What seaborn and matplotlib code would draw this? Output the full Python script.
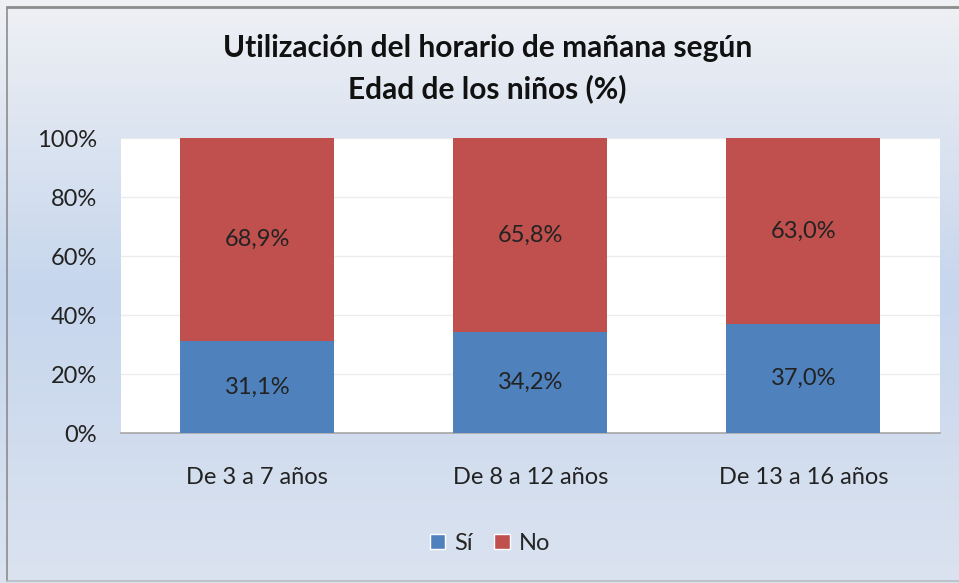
import matplotlib
matplotlib.use('Agg')
import matplotlib.pyplot as plt
import numpy as np
import pandas as pd
import seaborn as sns
from matplotlib.colors import LinearSegmentedColormap
from matplotlib.patches import Patch

sns.set_style('white')
plt.rcParams['font.family'] = ['Lato', 'DejaVu Sans']

categories = ['De 3 a 7 años', 'De 8 a 12 años', 'De 13 a 16 años']
si_values = [31.1, 34.2, 37.0]
no_values = [68.9, 65.8, 63.0]

BLUE = '#4F81BD'
RED = '#C0504D'

df = pd.DataFrame({'edad': categories, 'si': si_values, 'no': no_values})
df['total'] = df['si'] + df['no']

fig = plt.figure(figsize=(9.59, 5.83), dpi=100)

# gradient background of the chart area
bg = fig.add_axes([0, 0, 1, 1], zorder=-10)
cmap = LinearSegmentedColormap.from_list(
    'bg', [(0.0, '#f3f3f5'), (0.5, '#c6d6ed'), (1.0, '#dde4f0')])
grad = np.linspace(0, 1, 256).reshape(-1, 1)
bg.imshow(grad, aspect='auto', cmap=cmap, extent=[-0.05, 1.05, -0.05, 1.05])
bg.set_xlim(0, 1)
bg.set_ylim(0, 1)
bg.set_axis_off()
# chart frame: dark top and left, light bottom, none on the right
bg.plot([0.007, 0.007], [0.004, 0.988], color='#8c8c8c', lw=1.2)
bg.plot([0.007, 1.0], [0.988, 0.988], color='#8c8c8c', lw=2)
bg.plot([0.007, 1.0], [0.004, 0.004], color='#b8bcc4', lw=1.2)

ax = fig.add_axes([0.126, 0.257, 0.854, 0.506])
ax.set_facecolor('white')

sns.barplot(data=df, x='edad', y='total', color=RED, width=0.565,
            saturation=1, linewidth=0, ax=ax, zorder=3)
sns.barplot(data=df, x='edad', y='si', color=BLUE, width=0.565,
            saturation=1, linewidth=0, ax=ax, zorder=4)

for i, (s, n) in enumerate(zip(si_values, no_values)):
    ax.text(i, s / 2, f'{s:.1f}%'.replace('.', ','), ha='center',
            va='center', fontsize=17, color='#222222', zorder=5)
    ax.text(i, s + n / 2, f'{n:.1f}%'.replace('.', ','), ha='center',
            va='center', fontsize=17, color='#222222', zorder=5)

ax.set_ylim(0, 100)
ax.set_xlim(-0.5, 2.5)
ax.set_yticks(range(0, 101, 20))
ax.set_yticklabels([f'{v}%' for v in range(0, 101, 20)])
ax.yaxis.grid(True, color='#ececec', lw=1)
ax.set_axisbelow(True)
ax.set_xlabel('')
ax.set_ylabel('')
ax.tick_params(axis='y', length=0, pad=17, labelsize=17, labelcolor='#222222')
ax.tick_params(axis='x', length=0, pad=24, labelsize=17, labelcolor='#222222')
for side in ['top', 'right', 'left']:
    ax.spines[side].set_visible(False)
ax.spines['bottom'].set_color('#a6a6a6')
ax.spines['bottom'].set_linewidth(1.2)

fig.text(0.508, 0.917, 'Utilización del horario de mañana según',
         ha='center', va='center', fontsize=21.5, fontweight='bold',
         color='#111111')
fig.text(0.508, 0.848, 'Edad de los niños (%)',
         ha='center', va='center', fontsize=21.5, fontweight='bold',
         color='#111111')

handles = [Patch(facecolor=BLUE, label='Sí'), Patch(facecolor=RED, label='No')]
fig.legend(handles=handles, loc='center', bbox_to_anchor=(0.511, 0.068),
           ncol=2, frameon=False, fontsize=17, handlelength=0.65,
           handleheight=0.65, handletextpad=0.4, columnspacing=0.9)

fig.savefig('out.png', dpi=100)
